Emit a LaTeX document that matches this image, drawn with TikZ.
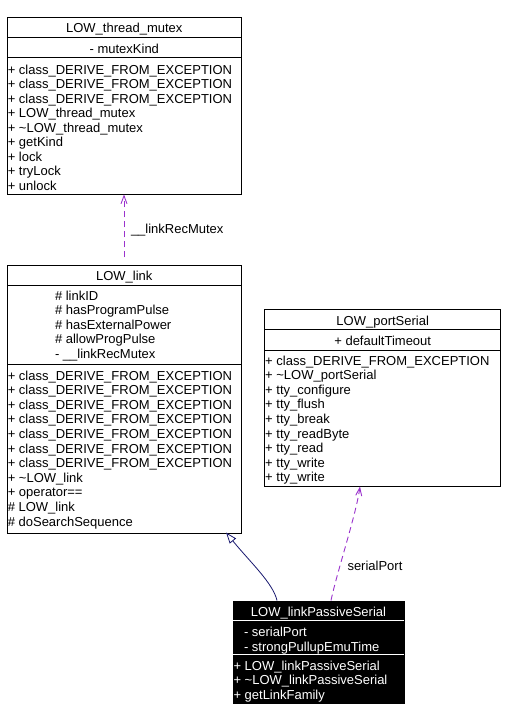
\documentclass[tikz,border=0pt]{standalone}
\usepackage{fontspec}
\setmainfont{Liberation Sans}
\usetikzlibrary{arrows.meta}
\definecolor{usecol}{HTML}{9A32CD}
\definecolor{inhcol}{HTML}{191970}
\begin{document}
\begin{tikzpicture}[x=1pt,y=-1pt,
  every node/.style={inner sep=0pt,outer sep=0pt,font=\fontsize{13}{14.6}\selectfont},
  box/.style={draw=black,line width=1pt,rectangle,anchor=north west},
  txt/.style={anchor=base west},
  ctxt/.style={anchor=base},
  wtxt/.style={anchor=base west,text=white},
  wctxt/.style={anchor=base,text=white},
  sep/.style={line width=1pt},
  usearrow/.style={draw=usecol,line width=0.9pt,dash pattern=on 6pt off 4pt,-{Straight Barb[length=8pt,width=6pt]}},
  inharrow/.style={draw=inhcol,line width=0.8pt,-{Triangle[open,length=11pt,width=8pt,fill=white]}}
]
\useasboundingbox[fill=white] (0,0) rectangle (505,721);

% ---- LOW_thread_mutex
\node[box,minimum width=234pt,minimum height=177pt] (mutex) at (7.3,17.3) {};
\draw[sep] (7.3,37.3) -- (241.3,37.3);
\draw[sep] (7.3,57.3) -- (241.3,57.3);
\node[ctxt] (m0) at (124.3,32.7) {LOW\_thread\_mutex};
\node[ctxt] (m1) at (124.3,53.3) {- mutexKind};
\foreach \t [count=\i from 0] in {class\_DERIVE\_FROM\_EXCEPTION,class\_DERIVE\_FROM\_EXCEPTION,class\_DERIVE\_FROM\_EXCEPTION,LOW\_thread\_mutex,\textasciitilde LOW\_thread\_mutex,getKind,lock,tryLock,unlock}
  \node[txt] (mm\i) at (7.8,74+14.5*\i) {+ \t};

% ---- LOW_link
\node[box,minimum width=234pt,minimum height=268.3pt] (link) at (7.3,265) {};
\draw[sep] (7.3,285) -- (241.3,285);
\draw[sep] (7.3,364.3) -- (241.3,364.3);
\node[ctxt] (l0) at (124.3,280.7) {LOW\_link};
\foreach \t [count=\i from 0] in {\# linkID,\# hasProgramPulse,\# hasExternalPower,\# allowProgPulse,- \_\_linkRecMutex}
  \node[txt] (la\i) at (55,300+14.6*\i) {\t};
\foreach \t [count=\i from 0] in {+ class\_DERIVE\_FROM\_EXCEPTION,+ class\_DERIVE\_FROM\_EXCEPTION,+ class\_DERIVE\_FROM\_EXCEPTION,+ class\_DERIVE\_FROM\_EXCEPTION,+ class\_DERIVE\_FROM\_EXCEPTION,+ class\_DERIVE\_FROM\_EXCEPTION,+ class\_DERIVE\_FROM\_EXCEPTION,+ \textasciitilde LOW\_link,+ operator==,\# LOW\_link,\# doSearchSequence}
  \node[txt] (lm\i) at (7.8,380+14.6*\i) {\t};

% ---- LOW_portSerial
\node[box,minimum width=236pt,minimum height=176.7pt] (ser) at (264.7,309.3) {};
\draw[sep] (264.7,329.3) -- (500.7,329.3);
\draw[sep] (264.7,350) -- (500.7,350);
\node[ctxt] (s0) at (382.7,325) {LOW\_portSerial};
\node[ctxt] (s1) at (382.7,345) {+ defaultTimeout};
\foreach \t [count=\i from 0] in {class\_DERIVE\_FROM\_EXCEPTION,\textasciitilde LOW\_portSerial,tty\_configure,tty\_flush,tty\_break,tty\_readByte,tty\_read,tty\_write,tty\_write}
  \node[txt] (sm\i) at (265.2,365+14.6*\i) {+ \t};

% ---- LOW_linkPassiveSerial
\node[box,fill=black,minimum width=171pt,minimum height=102.7pt] (ps) at (233,601) {};
\draw[sep,white] (233,620.7) -- (404,620.7);
\draw[sep,white] (233,654.3) -- (404,654.3);
\node[wctxt] (p0) at (318.5,616.7) {LOW\_linkPassiveSerial};
\node[wtxt] (pa0) at (244,636.7) {- serialPort};
\node[wtxt] (pa1) at (244,651.3) {- strongPullupEmuTime};
\node[wtxt] (pm0) at (233.5,670) {+ LOW\_linkPassiveSerial};
\node[wtxt] (pm1) at (233.5,684.6) {+ \textasciitilde LOW\_linkPassiveSerial};
\node[wtxt] (pm2) at (233.5,699.2) {+ getLinkFamily};

% ---- connectors
\coordinate (mutexB) at (124,194.5);
\coordinate (linkT) at (124,257);
\coordinate (linkB) at (226,532.5);
\coordinate (psA) at (277,600.5);
\coordinate (psB) at (331,600.5);
\coordinate (serB) at (360,486.5);

\draw[usearrow] (linkT) -- (mutexB);
\node[txt] (lbl1) at (131,233.5) {\_\_linkRecMutex};

\draw[inharrow] (psA) .. controls (273,583) and (250,562) .. (linkB);

\draw[usearrow] (psB) .. controls (337,572) and (356,515) .. (serB);
\node[txt] (lbl2) at (347.5,570) {serialPort};
\end{tikzpicture}
\end{document}
